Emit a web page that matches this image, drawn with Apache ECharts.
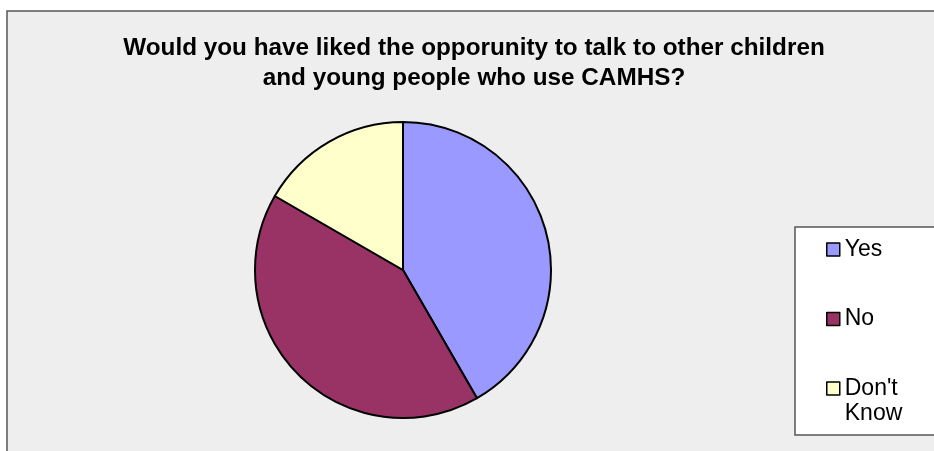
<!DOCTYPE html>
<html>
<head>
<meta charset="utf-8">
<script src="https://cdn.jsdelivr.net/npm/echarts@6/dist/echarts.min.js"></script>
<style>
html,body{margin:0;padding:0;background:#fff;}
#main{width:934px;height:451px;}
</style>
</head>
<body>
<div id="main"></div>
<script>
// data
var categories = ['Yes', 'No', "Don't Know"];
var values = [5, 5, 2];
var colors = ['#9999FF', '#993366', '#FFFFCC'];

var chart = echarts.init(document.getElementById('main'));
var pieData = categories.map(function(name, i){
	return {name: name, value: values[i], itemStyle: {color: colors[i]}};
});
chart.setOption({
	backgroundColor: '#fff',
	animation: false,
	title: {
		text: 'Would you have liked the opporunity to talk to other children\nand young people who use CAMHS?',
		left: 474,
		textAlign: 'center',
		top: 33,
		padding: 0,
		textStyle: {
			fontFamily: 'Liberation Sans',
			fontWeight: 'bold',
			fontSize: 24.3,
			lineHeight: 30,
			color: '#000'
		}
	},
	graphic: [{
		type: 'rect',
		z: -10,
		shape: {x: 7, y: 11, width: 1000, height: 1000},
		style: {fill: '#eeeeee', stroke: '#555', lineWidth: 1.5}
	}, {
		type: 'rect',
		z: -5,
		shape: {x: 795, y: 227, width: 200, height: 208},
		style: {fill: '#fff', stroke: '#555', lineWidth: 1.5}
	}],
	legend: {
		orient: 'vertical',
		left: 826,
		top: 212,
		padding: 0,
		itemGap: -5.5,
		icon: 'rect',
		itemWidth: 13,
		itemHeight: 13,
		itemStyle: {borderColor: '#000', borderWidth: 1.5},
		formatter: function(name){
			// blank first line keeps the icon level with the first text line
			var parts = name.split(' ');
			return ' \n' + parts[0] + '\n' + (parts[1] || ' ');
		},
		textStyle: {
			fontFamily: 'Liberation Sans',
			fontSize: 23,
			lineHeight: 25,
			color: '#000'
		},
		data: categories
	},
	series: [{
		type: 'pie',
		center: [403, 270],
		radius: 148,
		startAngle: 90,
		clockwise: true,
		label: {show: false},
		labelLine: {show: false},
		emphasis: {disabled: true},
		itemStyle: {borderColor: '#000', borderWidth: 2},
		data: pieData
	}]
});
</script>
</body>
</html>
